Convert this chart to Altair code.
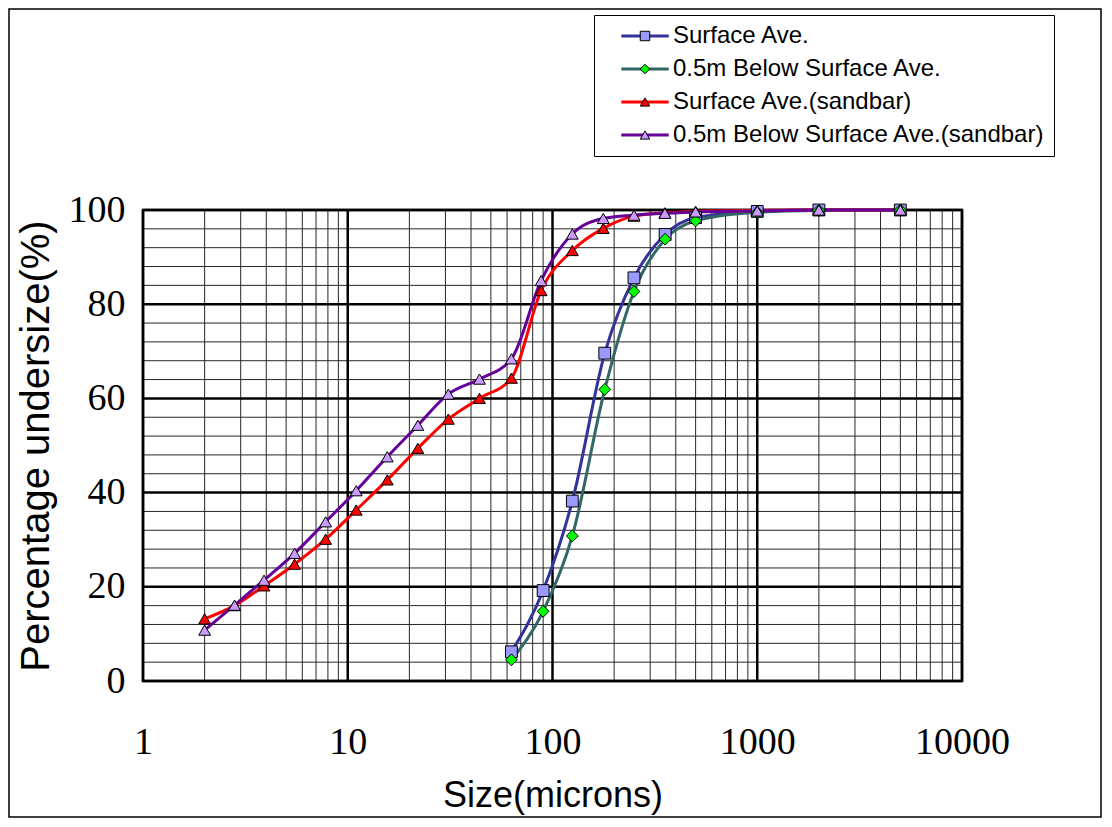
import altair as alt
import pandas as pd

# ---------------- data ----------------
series_names = [
    "Surface Ave.",
    "0.5m Below Surface Ave.",
    "Surface Ave.(sandbar)",
    "0.5m Below Surface Ave.(sandbar)",
]

sizes_river = [63, 90, 125, 180, 250, 355, 500, 1000, 2000, 5000]
surface_ave = [6.2, 19.2, 38.2, 69.6, 85.6, 94.8, 98.4, 99.7, 100, 100]
below_ave = [4.5, 14.8, 30.8, 61.9, 82.7, 93.8, 97.7, 99.5, 99.9, 100]

sizes_sandbar = [2, 2.8, 3.9, 5.5, 7.8, 11, 15.6, 22, 31, 44, 63, 88, 125, 177,
                 250, 354, 500, 1000, 2000, 5000]
surface_sandbar = [13.2, 16.0, 20.2, 24.8, 30.1, 36.3, 42.7, 49.4, 55.6, 60.0,
                   64.3, 82.9, 91.4, 96.1, 98.7, 99.4, 99.7, 99.9, 100, 100]
below_sandbar = [10.8, 16.1, 21.4, 27.1, 33.8, 40.4, 47.6, 54.3, 60.9, 64.1,
                 68.4, 85.0, 94.9, 98.2, 98.9, 99.3, 99.6, 99.8, 100, 100]

x_ticks = [1, 10, 100, 1000, 10000]
x_minor = [k * 10 ** d for d in range(4) for k in range(2, 10)]
y_ticks = [0, 20, 40, 60, 80, 100]
y_minor = [v for v in range(0, 101, 4) if v % 20 != 0]

line_colors = ["#333399", "#336666", "#FF0000", "#660099"]
marker_fills = ["#9999FF", "#00FF00", "#FF0000", "#CC99FF"]
marker_shapes = ["square", "diamond", "triangle-up", "triangle-up"]

rows = []
for name, xs, ys in [
    (series_names[0], sizes_river, surface_ave),
    (series_names[1], sizes_river, below_ave),
    (series_names[2], sizes_sandbar, surface_sandbar),
    (series_names[3], sizes_sandbar, below_sandbar),
]:
    for xv, yv in zip(xs, ys):
        rows.append({"series": name, "size": xv, "pct": yv})
df = pd.DataFrame(rows)

# ---------------- scales / axes ----------------
W, H = 819, 471
PAD = {"left": 135, "top": 202, "right": 140, "bottom": 137}
X_TITLE = "Size(microns)"
Y_TITLE = "Percentage undersize(%)"
xscale = alt.Scale(type="log", domain=[1, 10000], nice=False)
yscale = alt.Scale(domain=[0, 100], nice=False, zero=False)

x_axis = alt.Axis(
    values=x_ticks, format="d", grid=False, ticks=False, domain=False,
    labelFont="Liberation Serif", labelFontSize=38, labelColor="black",
    labelPadding=42, labelFlush=False, labelOverlap=False, zindex=1,
    titleFont="Liberation Sans", titleFontSize=36, titleFontWeight="normal",
    titleColor="black", titlePadding=17,
)
y_axis = alt.Axis(
    values=y_ticks, format="d", grid=False, ticks=False, domain=False,
    labelFont="Liberation Serif", labelFontSize=38, labelColor="black",
    labelPadding=18, labelFlush=False, labelOverlap=False, zindex=1,
    titleFont="Liberation Sans", titleFontSize=40, titleFontWeight="normal",
    titleColor="black", titlePadding=12,
)

legend_common = dict(
    orient="none", legendX=451, legendY=-195, title=None,
    labelFont="Liberation Sans", labelFontSize=24, labelColor="black",
    labelLimit=0, symbolSize=90, padding=9, rowPadding=9,
    labelOffset=16, symbolOffset=30,
)

# ---------------- layers ----------------
frame = alt.Chart(pd.DataFrame({"k": [0]})).mark_rect(
    filled=False, stroke="black", strokeWidth=1.5
).encode(
    x=alt.value(-PAD["left"] + 1), x2=alt.value(W + PAD["right"] - 1),
    y=alt.value(-PAD["top"] + 1), y2=alt.value(H + PAD["bottom"] - 1),
)


def xrule(values, color, width):
    return alt.Chart(pd.DataFrame({"v": values})).mark_rule(
        color=color, strokeWidth=width
    ).encode(x=alt.X("v:Q", scale=xscale, axis=x_axis, title=X_TITLE))


def yrule(values, color, width):
    return alt.Chart(pd.DataFrame({"v": values})).mark_rule(
        color=color, strokeWidth=width
    ).encode(y=alt.Y("v:Q", scale=yscale, axis=y_axis, title=Y_TITLE))


grid_x_minor = xrule(x_minor, "#262626", 1)
grid_y_minor = yrule(y_minor, "#262626", 1)
grid_x_major = xrule(x_ticks, "black", 2.5)
grid_y_major = yrule(y_ticks, "black", 2.5)

lines = alt.Chart(df).mark_line(strokeWidth=3, interpolate="monotone").encode(
    x=alt.X("size:Q", scale=xscale, axis=x_axis, title=X_TITLE),
    y=alt.Y("pct:Q", scale=yscale, axis=y_axis, title=Y_TITLE),
    stroke=alt.Stroke(
        "series:N",
        scale=alt.Scale(domain=series_names, range=line_colors),
        legend=alt.Legend(
            symbolType="M-5,0H5", symbolStrokeWidth=3,
            fillColor="white", strokeColor="black", zindex=1,
            **legend_common,
        ),
    ),
)

pt_legend = alt.Legend(
    symbolStrokeColor="black", symbolStrokeWidth=1, labelOpacity=0,
    zindex=2, **legend_common,
)
points = alt.Chart(df).mark_point(
    filled=True, stroke="black", strokeWidth=1, size=140, opacity=1
).encode(
    x=alt.X("size:Q", scale=xscale, axis=x_axis, title=X_TITLE),
    y=alt.Y("pct:Q", scale=yscale, axis=y_axis, title=Y_TITLE),
    color=alt.Color("series:N",
                    scale=alt.Scale(domain=series_names, range=marker_fills),
                    legend=pt_legend),
    shape=alt.Shape("series:N",
                    scale=alt.Scale(domain=series_names, range=marker_shapes),
                    legend=pt_legend),
)

chart = alt.layer(
    frame, grid_x_minor, grid_y_minor, grid_x_major, grid_y_major, lines, points
).resolve_legend(
    stroke="independent"
).properties(
    width=W, height=H,
    autosize=alt.AutoSizeParams(type="none"),
    padding=PAD,
    background="white",
).configure_view(stroke="black", strokeWidth=2.5)

chart.save("out.html", embed_options={"renderer": "svg", "actions": False})
